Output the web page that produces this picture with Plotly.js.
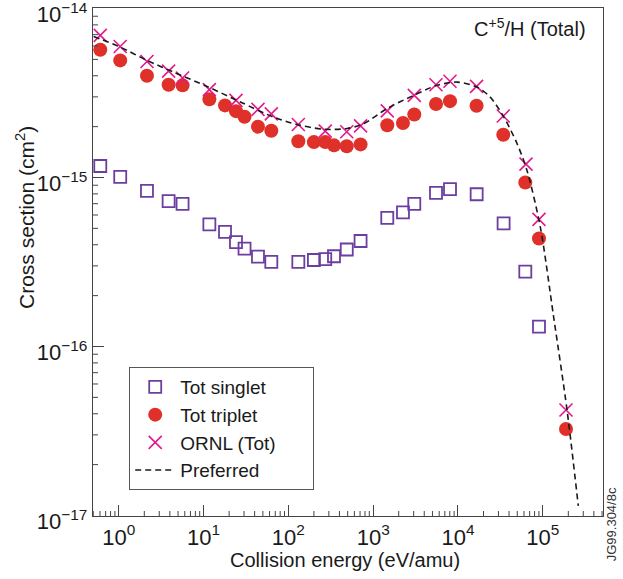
<!DOCTYPE html>
<html>
<head>
<meta charset="utf-8">
<script src="https://cdn.plot.ly/plotly-3.0.1.min.js"></script>
<style>
  html, body { margin: 0; padding: 0; background: #fff; }
  #chart { width: 623px; height: 579px; }
</style>
</head>
<body>
<div id="chart"></div>
<script>
// Collision energy (eV/amu) for the data sets
const energySinglet = [0.605, 1.04, 2.15, 3.87, 5.65, 11.7, 17.9, 24.1, 30.4, 43.8, 62.9, 131, 200, 272, 345, 488, 710, 1466, 2245, 3052, 5505, 8050, 16600, 34500, 62200, 90200];
const sigmaSinglet = [1.17e-15, 1.008e-15, 8.33e-16, 7.24e-16, 6.98e-16, 5.28e-16, 4.77e-16, 4.15e-16, 3.79e-16, 3.40e-16, 3.17e-16, 3.17e-16, 3.25e-16, 3.29e-16, 3.42e-16, 3.75e-16, 4.21e-16, 5.77e-16, 6.21e-16, 6.98e-16, 8.11e-16, 8.53e-16, 7.96e-16, 5.35e-16, 2.77e-16, 1.31e-16];

const energyTriplet = [0.605, 1.04, 2.15, 3.87, 5.65, 11.7, 17.9, 24.1, 30.4, 43.8, 62.9, 131, 200, 272, 345, 488, 710, 1466, 2245, 3052, 5505, 8050, 16560, 34200, 62200, 90200, 187800];
const sigmaTriplet = [5.70e-15, 4.93e-15, 4.00e-15, 3.54e-15, 3.51e-15, 2.90e-15, 2.67e-15, 2.47e-15, 2.29e-15, 2.00e-15, 1.89e-15, 1.64e-15, 1.62e-15, 1.62e-15, 1.55e-15, 1.53e-15, 1.57e-15, 2.04e-15, 2.10e-15, 2.36e-15, 2.72e-15, 2.83e-15, 2.66e-15, 1.79e-15, 9.34e-16, 4.36e-16, 3.25e-17];

const energyORNL = [0.605, 1.04, 2.15, 3.87, 5.65, 11.7, 24.1, 43.8, 62.9, 131, 272, 488, 710, 1466, 3052, 5505, 8050, 16560, 34200, 63400, 90200, 187800];
const sigmaORNL = [6.93e-15, 5.96e-15, 4.86e-15, 4.26e-15, 3.88e-15, 3.31e-15, 2.86e-15, 2.53e-15, 2.38e-15, 2.06e-15, 1.88e-15, 1.865e-15, 2.02e-15, 2.48e-15, 3.06e-15, 3.54e-15, 3.71e-15, 3.46e-15, 2.31e-15, 1.20e-15, 5.65e-16, 4.21e-17];

const energyPreferred = [0.505, 1.04, 2.15, 4.39, 10.97, 27.1, 66.4, 126, 258, 491, 771, 1455, 2995, 5655, 9730, 16750, 24000, 34500, 49640, 65130, 93400, 134100, 193000, 262200];
const sigmaPreferred = [6.83e-15, 5.91e-15, 4.93e-15, 4.21e-15, 3.46e-15, 2.80e-15, 2.28e-15, 2.06e-15, 1.93e-15, 1.95e-15, 2.08e-15, 2.56e-15, 3.06e-15, 3.51e-15, 3.67e-15, 3.43e-15, 2.99e-15, 2.29e-15, 1.59e-15, 1.10e-15, 5.11e-16, 1.50e-16, 4.22e-17, 1.14e-17];

const seriesNames = ['Tot singlet', 'Tot triplet', 'ORNL (Tot)', 'Preferred'];

const xTickVals = [1, 10, 100, 1000, 10000, 100000];
const xTickText = ['10<sup>0</sup>', '10<sup>1</sup>', '10<sup>2</sup>', '10<sup>3</sup>', '10<sup>4</sup>', '10<sup>5</sup>'];
const yTickVals = [1e-17, 1e-16, 1e-15, 1e-14];
const yTickText = ['10<sup>\u221217</sup>', '10<sup>\u221216</sup>', '10<sup>\u221215</sup>', '10<sup>\u221214</sup>'];

// minor tick positions (2..9 in each decade)
const minorMultipliers = [2, 3, 4, 5, 6, 7, 8, 9];
const xMinorDecades = [0.1, 1, 10, 100, 1000, 10000, 100000];
const yMinorDecades = [1e-17, 1e-16, 1e-15];

const X_RANGE = [-0.304, 5.71];
const Y_RANGE = [-17.003, -13.997];

const W = 623, H = 579;
const M = { l: 93, r: 20, t: 8, b: 63 };
const plotW = W - M.l - M.r, plotH = H - M.t - M.b;
const MINOR_LEN = 5;

const FONT = 'Liberation Sans, Arial, sans-serif';
const NB = '\u00a0';

// minor ticks as short line shapes placed through the axis scales (data values)
const inRange = (v, r) => Math.log10(v) > r[0] && Math.log10(v) < r[1];
const xMinorVals = xMinorDecades.flatMap(d => minorMultipliers.map(m => m * d)).filter(v => inRange(v, X_RANGE));
const yMinorVals = yMinorDecades.flatMap(d => minorMultipliers.map(m => m * d)).filter(v => inRange(v, Y_RANGE));
const tickLine = { color: '#444', width: 1 };
const minorShapes = [
  ...xMinorVals.map(v => ({ type: 'line', xref: 'x', yref: 'paper', x0: v, x1: v, y0: 0, y1: MINOR_LEN / plotH, line: tickLine, layer: 'above' })),
  ...yMinorVals.map(v => ({ type: 'line', xref: 'paper', yref: 'y', x0: 0, x1: MINOR_LEN / plotW, y0: v, y1: v, line: tickLine, layer: 'above' }))
];

const traces = [
  {
    x: energySinglet, y: sigmaSinglet, name: seriesNames[0],
    type: 'scatter', mode: 'markers',
    marker: { symbol: 'square-open', size: 12, color: '#6b3fa0', line: { width: 1.8, color: '#6b3fa0' } }
  },
  {
    x: energyTriplet, y: sigmaTriplet, name: seriesNames[1],
    type: 'scatter', mode: 'markers',
    marker: { symbol: 'circle', size: 14, color: '#e0302a' }
  },
  {
    x: energyORNL, y: sigmaORNL, name: seriesNames[2] + NB.repeat(6),
    type: 'scatter', mode: 'markers',
    marker: { symbol: 'x-thin-open', size: 13, color: '#e5198c', line: { width: 1.6, color: '#e5198c' } }
  },
  {
    x: energyPreferred, y: sigmaPreferred, name: seriesNames[3],
    type: 'scatter', mode: 'lines',
    line: { color: '#1a1a1a', width: 1.6, dash: '6px,4px', shape: 'spline', smoothing: 0.8 }
  }
];

const layout = {
  width: W, height: H,
  margin: M,
  paper_bgcolor: '#fff', plot_bgcolor: '#fff',
  font: { family: FONT, color: '#1a1a1a', size: 20 },
  showlegend: true,
  legend: {
    x: 0.071, y: 0.051, xanchor: 'left', yanchor: 'bottom',
    bgcolor: '#fff', bordercolor: '#555', borderwidth: 1,
    font: { family: FONT, size: 19, color: '#1a1a1a' },
    itemwidth: 40
  },
  xaxis: {
    type: 'log',
    range: X_RANGE,
    tickmode: 'array', tickvals: xTickVals, ticktext: xTickText,
    ticks: 'inside', ticklen: 11, tickwidth: 1, tickcolor: '#444',
    showline: true, linecolor: '#444', linewidth: 1.2, mirror: true,
    showgrid: false, zeroline: false,
    ticklabelstandoff: 1,
    tickfont: { family: FONT, size: 22, color: '#1a1a1a' }
  },
  yaxis: {
    type: 'log',
    range: Y_RANGE,
    tickmode: 'array', tickvals: yTickVals, ticktext: yTickText,
    ticks: 'inside', ticklen: 11, tickwidth: 1, tickcolor: '#444',
    showline: true, linecolor: '#444', linewidth: 1.2, mirror: true,
    showgrid: false, zeroline: false,
    ticklabelshift: 6,
    ticklabeloverflow: 'allow',
    tickfont: { family: FONT, size: 22, color: '#1a1a1a' }
  },
  shapes: minorShapes,
  annotations: [
    {
      text: 'Cross section (cm<sup>2</sup>)', xref: 'paper', yref: 'paper',
      x: -0.133, y: 0.587, xanchor: 'center', yanchor: 'middle', showarrow: false,
      textangle: -90,
      font: { family: FONT, size: 21, color: '#1a1a1a' }
    },
    {
      text: 'Collision energy (eV/amu)', xref: 'paper', yref: 'paper',
      x: 0.495, y: -0.087, xanchor: 'center', yanchor: 'middle', showarrow: false,
      font: { family: FONT, size: 20, color: '#1a1a1a' }
    },
    {
      text: 'C<sup>+5</sup>/H (Total)', xref: 'paper', yref: 'paper',
      x: 0.971, y: 0.962, xanchor: 'right', yanchor: 'middle', showarrow: false,
      font: { family: FONT, size: 20, color: '#1a1a1a' }
    },
    {
      text: 'JG99.304/8c', xref: 'paper', yref: 'paper',
      x: 1.016, y: -0.016, xanchor: 'center', yanchor: 'middle', showarrow: false,
      textangle: -90,
      font: { family: FONT, size: 13, color: '#333' }
    }
  ]
};

Plotly.newPlot('chart', traces, layout, { displayModeBar: false, staticPlot: true });
</script>
</body>
</html>
